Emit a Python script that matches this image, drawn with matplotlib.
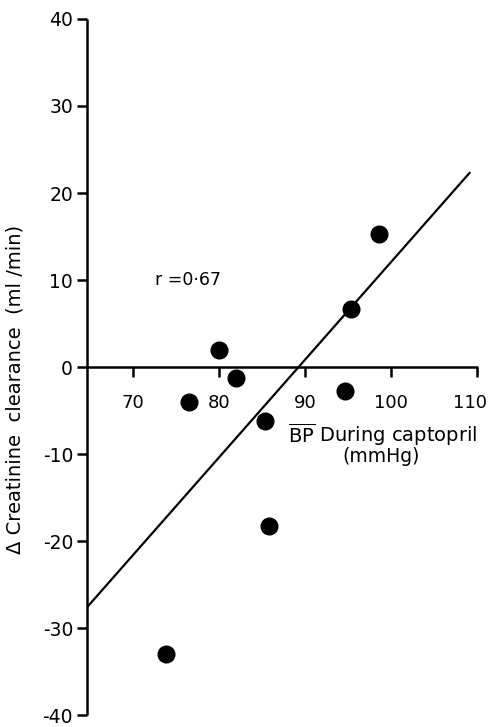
import matplotlib
matplotlib.use("Agg")
import matplotlib.pyplot as plt
from matplotlib.transforms import ScaledTranslation

# mean BP during captopril (mmHg) vs change in creatinine clearance (ml/min)
bp_mmhg = [80.0, 82.0, 76.5, 85.4, 94.7, 95.4, 98.6, 85.8, 73.9]
delta_ccr = [2.0, -1.2, -4.0, -6.2, -2.7, 6.7, 15.3, -18.2, -33.0]

# regression line end points
fit_x = [64.7, 109.2]
fit_y = [-27.6, 22.4]

x_ticks = [70, 80, 90, 100, 110]
y_ticks = [-40, -30, -20, -10, 0, 10, 20, 30, 40]
r_label = "r =0·67"

plt.rcParams["font.family"] = "DejaVu Sans"
plt.rcParams["axes.unicode_minus"] = False

fig = plt.figure(figsize=(4.91, 7.27), dpi=100)
ax = fig.add_axes([0.177, 0.016, 0.7965, 0.958])

ax.plot(fit_x, fit_y, color="black", lw=1.6, solid_capstyle="butt")
ax.plot(bp_mmhg, delta_ccr, "o", color="black", ms=12)

ax.set_xlim(64.7, 110.1)
ax.set_ylim(-40, 40)

ax.spines["top"].set_visible(False)
ax.spines["right"].set_visible(False)
ax.spines["left"].set_position(("data", 64.7))
ax.spines["bottom"].set_position(("data", 0))
for s in ["left", "bottom"]:
    ax.spines[s].set_linewidth(1.8)
    ax.spines[s].set_capstyle("butt")

ax.set_xticks(x_ticks)
ax.set_yticks(y_ticks)
ax.tick_params(axis="both", direction="out", length=7, width=1.8, labelsize=13.5)
ax.tick_params(axis="x", pad=12, labelsize=13)
ax.tick_params(axis="y", pad=3)

# last x label sits at the figure edge, nudge it in a little
last = ax.get_xticklabels()[-1]
last.set_transform(last.get_transform() + ScaledTranslation(-5 / 72, 0, fig.dpi_scale_trans))

ax.text(72.6, 10, r_label, fontsize=12.5, ha="left", va="center")
ax.text(110.0, -7.8, r"$\overline{\mathrm{BP}}$ During captopril", fontsize=14,
        ha="right", va="center")
ax.text(98.8, -10.3, "(mmHg)", fontsize=13.5, ha="center", va="center")

fig.text(0.03, 0.464, "Δ Creatinine  clearance  (ml /min)", rotation=90,
         fontsize=14, ha="center", va="center")

fig.savefig("out.png", dpi=100)
